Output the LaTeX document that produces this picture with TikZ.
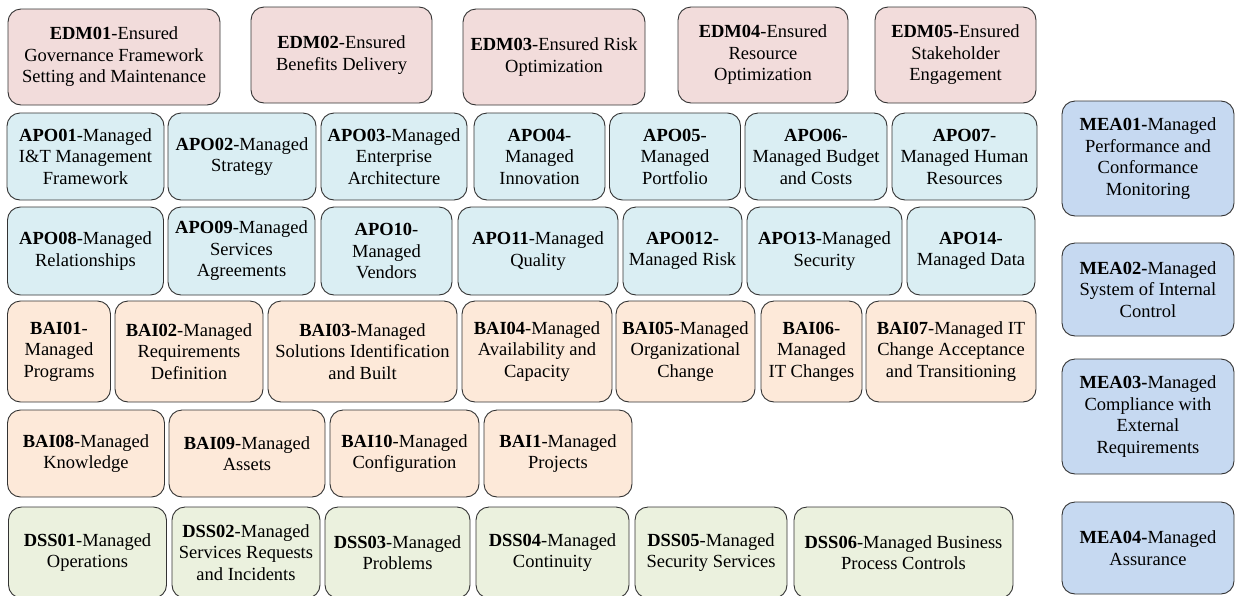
\documentclass[tikz,border=0pt]{standalone}
\usepackage{fontspec}
\setmainfont{Liberation Serif}
\usepackage{tikz}
\usetikzlibrary{positioning}

\begin{document}
\begin{tikzpicture}[x=1pt,y=1pt,
  proc/.style={draw=black!80,line width=0.9pt,rounded corners=13pt,align=center,inner sep=0pt,
    font={\fontsize{18.5}{21.5}\selectfont}},
  sz/.style 2 args={minimum width=#1pt,minimum height=#2pt},
  edm/.style={proc,fill=edmfill},
  apo/.style={proc,fill=apofill},
  bai/.style={proc,fill=baifill},
  dss/.style={proc,fill=dssfill},
  mea/.style={proc,fill=meafill}]
\definecolor{edmfill}{HTML}{F2DCDB}
\definecolor{apofill}{HTML}{DAEEF3}
\definecolor{baifill}{HTML}{FDE9D9}
\definecolor{dssfill}{HTML}{EBF1DE}
\definecolor{meafill}{HTML}{C6D9F1}
\useasboundingbox (0,0) rectangle (1235,-595);
\node[edm,sz={212}{96}] (edm01) at (114,-57) {\textbf{EDM01}-Ensured\\Governance Framework\\Setting and Maintenance};
\node[edm,sz={181}{96}] (edm02) at (341.5,-55) {\textbf{EDM02}-Ensured\\Benefits Delivery};
\node[edm,sz={182}{96}] (edm03) at (554,-57) {\textbf{EDM03}-Ensured Risk\\Optimization};
\node[edm,sz={170}{96}] (edm04) at (763,-55) {\textbf{EDM04}-Ensured\\Resource\\Optimization};
\node[edm,sz={161}{96}] (edm05) at (955.5,-55) {\textbf{EDM05}-Ensured\\Stakeholder\\Engagement};
\node[apo,sz={157}{87}] (apo01) at (85.5,-156.5) {\textbf{APO01}-Managed\\I\&T Management\\Framework};
\node[apo,sz={148}{87}] (apo02) at (242,-156.5) {\textbf{APO02}-Managed\\Strategy};
\node[apo,sz={146}{87}] (apo03) at (394,-156.5) {\textbf{APO03}-Managed\\Enterprise\\Architecture};
\node[apo,sz={131}{87}] (apo04) at (539.5,-156.5) {\textbf{APO04}-\\Managed\\Innovation};
\node[apo,sz={131}{87}] (apo05) at (675,-156.5) {\textbf{APO05}-\\Managed\\Portfolio};
\node[apo,sz={142}{87}] (apo06) at (816,-156.5) {\textbf{APO06}-\\Managed Budget\\and Costs};
\node[apo,sz={145}{87}] (apo07) at (964.5,-156.5) {\textbf{APO07}-\\Managed Human\\Resources};
\node[apo,sz={156}{88}] (apo08) at (85.5,-251) {\textbf{APO08}-Managed\\Relationships};
\node[apo,sz={147}{88}] (apo09) at (241.5,-251) {\textbf{APO09}-Managed\\Services\\Agreements};
\node[apo,sz={131}{88}] (apo10) at (386.5,-251) {\textbf{APO10}-\\Managed\\Vendors};
\node[apo,sz={160}{88}] (apo11) at (538,-251) {\textbf{APO11}-Managed\\Quality};
\node[apo,sz={119}{88}] (apo12) at (682.5,-251) {\textbf{APO012}-\\Managed Risk};
\node[apo,sz={155}{88}] (apo13) at (824.5,-251) {\textbf{APO13}-Managed\\Security};
\node[apo,sz={128}{88}] (apo14) at (971,-251) {\textbf{APO14}-\\Managed Data};
\node[bai,sz={103}{101}] (bai01) at (59,-351.5) {\textbf{BAI01}-\\Managed\\Programs};
\node[bai,sz={148}{101}] (bai02) at (189,-351.5) {\textbf{BAI02}-Managed\\Requirements\\Definition};
\node[bai,sz={189}{101}] (bai03) at (362.5,-351.5) {\textbf{BAI03}-Managed\\Solutions Identification\\and Built};
\node[bai,sz={150}{101}] (bai04) at (537,-351.5) {\textbf{BAI04}-Managed\\Availability and\\Capacity};
\node[bai,sz={139}{101}] (bai05) at (685.5,-351.5) {\textbf{BAI05}-Managed\\Organizational\\Change};
\node[bai,sz={101}{101}] (bai06) at (811.5,-351.5) {\textbf{BAI06}-\\Managed\\IT Changes};
\node[bai,sz={170}{101}] (bai07) at (951,-351.5) {\textbf{BAI07}-Managed IT\\Change Acceptance\\and Transitioning};
\node[bai,sz={157}{87}] (bai08) at (86,-453.5) {\textbf{BAI08}-Managed\\Knowledge};
\node[bai,sz={156}{87}] (bai09) at (247,-453.5) {\textbf{BAI09}-Managed\\Assets};
\node[bai,sz={149}{87}] (bai10) at (404.5,-453.5) {\textbf{BAI10}-Managed\\Configuration};
\node[bai,sz={148}{87}] (bai11) at (558,-453.5) {\textbf{BAI1}-Managed\\Projects};
\node[dss,sz={158}{91}] (dss01) at (87.5,-552.5) {\textbf{DSS01}-Managed\\Operations};
\node[dss,sz={148}{91}] (dss02) at (246,-552.5) {\textbf{DSS02}-Managed\\Services Requests\\and Incidents};
\node[dss,sz={145}{91}] (dss03) at (397.5,-552.5) {\textbf{DSS03}-Managed\\Problems};
\node[dss,sz={153}{91}] (dss04) at (552.5,-552.5) {\textbf{DSS04}-Managed\\Continuity};
\node[dss,sz={152}{91}] (dss05) at (711,-552.5) {\textbf{DSS05}-Managed\\Security Services};
\node[dss,sz={219}{91}] (dss06) at (903.5,-552.5) {\textbf{DSS06}-Managed Business\\Process Controls};
\node[mea,sz={172}{115}] (mea01) at (1148,-158.5) {\textbf{MEA01-}Managed\\Performance and\\Conformance\\Monitoring};
\node[mea,sz={172}{93}] (mea02) at (1148,-289.5) {\textbf{MEA02-}Managed\\System of Internal\\Control};
\node[mea,sz={172}{115}] (mea03) at (1148,-416.5) {\textbf{MEA03-}Managed\\Compliance with\\External\\Requirements};
\node[mea,sz={172}{92}] (mea04) at (1148,-548) {\textbf{MEA04-}Managed\\Assurance};
\end{tikzpicture}
\end{document}
